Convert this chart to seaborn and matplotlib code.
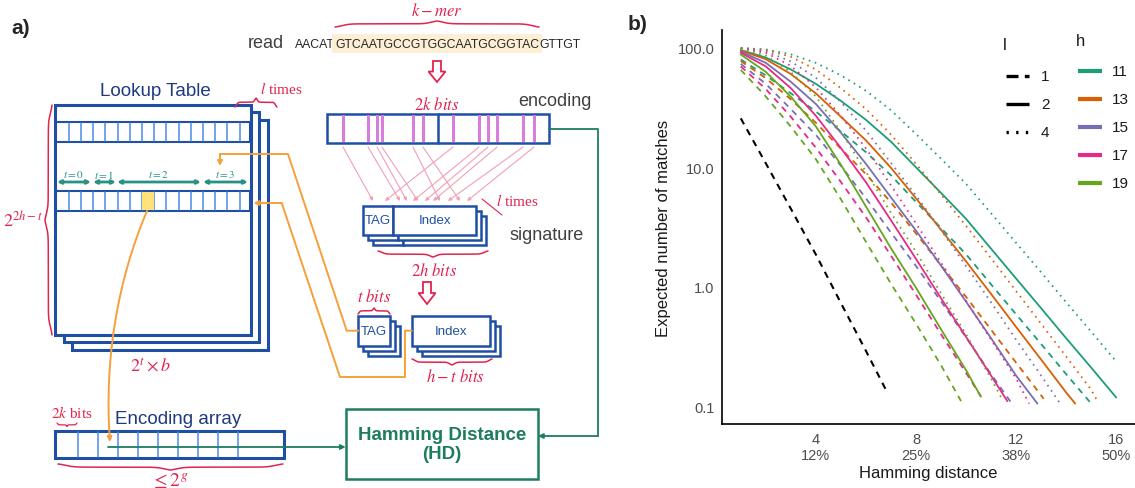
import numpy as np
import pandas as pd
import matplotlib
matplotlib.use("Agg")
import matplotlib.pyplot as plt
import seaborn as sns
from matplotlib.patches import Rectangle, Polygon, FancyArrowPatch
from matplotlib.path import Path
from matplotlib.ticker import NullLocator

sns.set_style("white")
plt.rcParams["font.family"] = ["Liberation Sans", "DejaVu Sans"]
plt.rcParams["mathtext.fontset"] = "stix"

W, H = 1135, 489

# ---------------- panel b data ----------------
h_levels = ["11", "13", "15", "17", "19"]
h_colors = ["#1B9E77", "#D95F02", "#7570B3", "#E7298A", "#66A61E"]
l_levels = ["1", "2", "4"]

# expected number of matches at Hamming distance 1, 2, 3, ...
# l = 1 (dashed)
l1_h11 = [80, 58.8, 41.7, 29.3, 20.0, 13.4, 8.57, 5.13, 3.10, 1.87, 1.045, 0.587, 0.331, 0.185, 0.105]
l1_h13 = [77.6, 55.8, 37.1, 23.6, 14.3, 8.79, 5.08, 2.79, 1.51, 0.822, 0.436, 0.231, 0.123]
l1_h15 = [73.5, 50.0, 30.7, 18.7, 10.3, 5.5, 2.84, 1.49, 0.754, 0.376, 0.185]
l1_h17 = [70.0, 45.2, 26.5, 14.6, 7.53, 3.82, 1.82, 0.858, 0.40, 0.19]
l1_h19 = [65.4, 39.2, 21.9, 11.7, 5.40, 2.38, 1.06, 0.49, 0.22]
# l = 2 (solid)
l2_h11 = [96, 83, 66, 50, 36, 25, 16.4, 10.0, 6.1, 3.7, 2.08, 1.17, 0.66, 0.37, 0.21]
l2_h13 = [95, 80.5, 60.4, 41.6, 26.5, 16.8, 9.9, 5.5, 3.0, 1.63, 0.87, 0.46, 0.245, 0.13]
l2_h15 = [93, 75, 52, 33.9, 19.5, 10.7, 5.6, 2.95, 1.5, 0.75, 0.37, 0.18]
l2_h17 = [91, 70, 46, 27, 14.5, 7.5, 3.6, 1.71, 0.8, 0.38, 0.18]
l2_h19 = [88, 63, 39, 22, 10.5, 4.7, 2.1, 0.98, 0.44, 0.2]
# l = 4 (dotted)
l4_h11 = [99.8, 97.1, 88.4, 75.0, 59.0, 43.8, 30.1, 19.0, 11.8, 7.26, 4.12, 2.33, 1.32, 0.74, 0.42]
l4_h13 = [99.7, 96.2, 84.3, 65.9, 46.0, 30.8, 18.8, 10.7, 5.91, 3.23, 1.73, 0.918, 0.489, 0.26, 0.137]
l4_h15 = [99.5, 93.8, 77.0, 56.3, 35.2, 20.3, 10.9, 5.81, 2.98, 1.49, 0.739, 0.36, 0.18]
l4_h17 = [99.2, 91.0, 70.8, 46.7, 26.9, 14.4, 7.07, 3.39, 1.59, 0.759, 0.36, 0.17]
l4_h19 = [98.6, 86.3, 62.8, 39.2, 19.9, 9.18, 4.16, 1.96, 0.88, 0.40, 0.17]
# last point of each curve before it drops out of the panel (distance, value)
l1_end_d = [15.05, 13.1, 11.9, 10.6, 9.8]
l1_end_y = [0.10, 0.115, 0.10, 0.12, 0.11]
l2_end_d = [16.0, 14.36, 12.85, 11.65, 10.59]
l2_end_y = [0.118, 0.105, 0.105, 0.11, 0.12]
l4_end_d = [16.0, 15.25, 13.76, 12.52, 11.48]
l4_end_y = [0.236, 0.11, 0.105, 0.105, 0.11]
# black dashed reference line
ref_d = [1, 2, 3, 4, 5, 6, 6.87]
ref_y = [25.7, 10.8, 4.5, 1.86, 0.73, 0.29, 0.128]

x_ticks = [4, 8, 12, 16]
x_ticklabels = ["4\n12%", "8\n25%", "12\n38%", "16\n50%"]
y_ticks = [0.1, 1, 10, 100]
y_ticklabels = ["0.1", "1.0", "10.0", "100.0"]

curves = {"1": [l1_h11, l1_h13, l1_h15, l1_h17, l1_h19],
          "2": [l2_h11, l2_h13, l2_h15, l2_h17, l2_h19],
          "4": [l4_h11, l4_h13, l4_h15, l4_h17, l4_h19]}
ends = {"1": (l1_end_d, l1_end_y), "2": (l2_end_d, l2_end_y), "4": (l4_end_d, l4_end_y)}

rows = []
for l in l_levels:
    for i, h in enumerate(h_levels):
        vals = curves[l][i]
        xs = list(range(1, len(vals) + 1)) + [ends[l][0][i]]
        ys = list(vals) + [ends[l][1][i]]
        rows += [{"dist": x, "matches": y, "h": h, "l": l} for x, y in zip(xs, ys)]
df = pd.DataFrame(rows)

fig = plt.figure(figsize=(W / 100, H / 100), dpi=100)

# ---------------- panel b ----------------
ax = fig.add_axes([722 / W, 1 - 425 / H, (W - 722) / W, (425 - 31) / H])
sns.lineplot(data=df, x="dist", y="matches", hue="h", style="l",
             palette=dict(zip(h_levels, h_colors)),
             dashes={"1": (3.4, 3.0), "2": "", "4": (0.9, 2.6)},
             linewidth=1.3, estimator=None, legend=False, ax=ax)
sns.lineplot(x=ref_d, y=ref_y, color="black", linewidth=1.5, linestyle=(0, (3.2, 2.8)),
             estimator=None, ax=ax)
ax.set_yscale("log")
ax.set_xlim(0.25, 16.75)
ax.set_ylim(10 ** -1.15, 10 ** 2.15)
ax.set_xticks(x_ticks)
ax.set_xticklabels(x_ticklabels, linespacing=1.2)
ax.set_yticks(y_ticks)
ax.set_yticklabels(y_ticklabels)
ax.yaxis.set_minor_locator(NullLocator())
ax.tick_params(length=3.5, width=0.9, color="#333333", labelcolor="#4D4D4D", labelsize=10.5, pad=2)
sns.despine(ax=ax)
for s in ("left", "bottom"):
    ax.spines[s].set_linewidth(1.2)
    ax.spines[s].set_color("black")
ax.set_xlabel("Hamming distance", fontsize=12, color="#1A1A1A", labelpad=2)
ax.set_ylabel("Expected number of matches", fontsize=12, color="#1A1A1A", labelpad=5)

# ---------------- overlay in pixel coordinates (panel a + legends) ----------------
ov = fig.add_axes([0, 0, 1, 1])
ov.set_xlim(0, W)
ov.set_ylim(H, 0)
ov.axis("off")

# legends of panel b
ov.text(1003, 45, "l", fontsize=12, va="center", ha="left", color="#1A1A1A")
l_styles = [(0, (3.6, 1.9)), "-", (0, (0.7, 2.2))]
for j, (lab, ls) in enumerate(zip(l_levels, l_styles)):
    yy = 76.7 + 28 * j
    ov.plot([1006, 1029], [yy, yy], color="black", lw=2.4, linestyle=ls,
            solid_capstyle="butt", dash_capstyle="butt")
    ov.text(1041, yy, lab, fontsize=11, va="center", ha="left", color="#1A1A1A")
ov.text(1076, 42, "h", fontsize=12, va="center", ha="left", color="#1A1A1A")
for j, (lab, c) in enumerate(zip(h_levels, h_colors)):
    yy = 71.7 + 28.1 * j
    ov.plot([1078, 1102], [yy, yy], color=c, lw=3, solid_capstyle="butt")
    ov.text(1112, yy, lab, fontsize=11, va="center", ha="left", color="#1A1A1A")

ov.text(638, 25, "b)", fontsize=15, fontweight="bold", va="center", ha="center")
ov.text(21, 29, "a)", fontsize=15, fontweight="bold", va="center", ha="center")

# ---------------- panel a diagram ----------------
BLUE = "#1F4FA5"
LBLUE = "#4A8BE6"
NAVY = "#1F3A80"
RED = "#E0244F"
ORANGE = "#F5A03A"
GREEN = "#1E7D5F"
TEAL = "#2A9187"
GREY = "#404040"
PINK = "#F2A0B5"


def rect(x0, y0, x1, y1, ec=BLUE, lw=1.8, fc="white", z=2):
    ov.add_patch(Rectangle((x0, y0), x1 - x0, y1 - y0, ec=ec, fc=fc, lw=lw, zorder=z))


def brace(a0, a1, b, h, vertical=False, color=RED, lw=1.1):
    t = np.linspace(0, 1, 300)
    u = np.where(t < 0.5, t, 1 - t) * 2
    s = 1 / (1 + np.exp(-28 * (u - 0.07))) + 1 / (1 + np.exp(-28 * (u - 0.95)))
    s = (s - s.min()) / (s.max() - s.min())
    a = a0 + (a1 - a0) * t
    bb = b + h * s
    if vertical:
        ov.plot(bb, a, color=color, lw=lw, zorder=3)
    else:
        ov.plot(a, bb, color=color, lw=lw, zorder=3)


def hollow_down(xc, y0, y1):
    yh = y0 + (y1 - y0) * 0.5
    pts = [(xc - 4, y0), (xc + 4, y0), (xc + 4, yh), (xc + 8.5, yh), (xc, y1),
           (xc - 8.5, yh), (xc - 4, yh)]
    ov.add_patch(Polygon(pts, closed=True, fc="white", ec=RED, lw=1.3, zorder=3))


def poly_arrow(pts, color, lw=1.4, ms=7):
    xs, ys = zip(*pts)
    ov.plot(xs[:-1], ys[:-1], color=color, lw=lw, zorder=4)
    ov.annotate("", xy=pts[-1], xytext=pts[-2],
                arrowprops=dict(arrowstyle="-|>", color=color, lw=lw, mutation_scale=ms,
                                shrinkA=0, shrinkB=0), zorder=4)


def red(x, y, s, size=11):
    ov.text(x, y, s, color=RED, fontsize=size, ha="center", va="center",
            family=["Liberation Serif", "DejaVu Serif"])


# read + k-mer
ov.text(284, 44, "read", fontsize=13, color=GREY, ha="right", va="center")
t_left = ov.text(335, 44.5, "AACAT", fontsize=8.8, ha="right", va="center")
t_mid = ov.text(335, 44.5, "GTCAATGCCGTGGCAATGCGGTAC", fontsize=8.8, ha="left", va="center",
                bbox=dict(boxstyle="square,pad=0.25", fc="#FCEFD4", ec="none"))
fig.canvas.draw()
bbm = t_mid.get_window_extent()
x_end = ov.transData.inverted().transform((bbm.x1, bbm.y0))[0]
ov.text(x_end, 44.5, "GTTGT", fontsize=8.8, ha="left", va="center")
brace(335, x_end, 28, -6)
red((335 + x_end) / 2, 11, r"$k-mer$", 12)
hollow_down(437, 62, 83)

# encoding
red(437, 105, r"$2k\ bits$", 12)
ov.text(555, 102, "encoding", fontsize=13, color=GREY, ha="center", va="center")
rect(326.7, 115, 549.3, 144)
ov.plot([437.7, 437.7], [115, 144], color=BLUE, lw=1.8, zorder=3)
bar_x = [343, 368, 377, 382, 413, 423, 453, 479, 488, 497, 523, 534]
for bx in bar_x:
    ov.add_patch(Rectangle((bx - 1.5, 116), 3, 27, fc="#D97BDF", ec="none", zorder=3))
pink_to = [373, 400, 407, 418, 440, 460, 385, 413, 425, 433, 448, 467]
for bx, ex in zip(bar_x, pink_to):
    ov.annotate("", xy=(ex, 202), xytext=(bx, 148),
                arrowprops=dict(arrowstyle="-|>", color=PINK, lw=0.8, mutation_scale=5,
                                shrinkA=0, shrinkB=0))

# signature
for off in (10, 5, 0):
    rect(363.3 + off, 206.7 + off, 393.3 + off, 236 + off)
    rect(393.3 + off, 206.7 + off, 476 + off, 236 + off)
ov.text(378.3, 221.5, "TAG", fontsize=9.5, color=BLUE, ha="center", va="center", zorder=5)
ov.text(434.7, 221.5, "Index", fontsize=9.5, color=BLUE, ha="center", va="center", zorder=5)
ov.plot([482, 502], [200, 216], color=RED, lw=0.8)
ov.text(496, 201, r"$l$ times", color=RED, fontsize=11, ha="left", va="center",
        family=["Liberation Serif", "DejaVu Serif"])
ov.text(547, 235, "signature", fontsize=13, color=GREY, ha="center", va="center")
brace(378, 488, 252, 6)
red(434, 272, r"$2h\ bits$", 12)
hollow_down(427, 283, 305)

# TAG / Index split
for off in (10, 5, 0):
    rect(358.3 + off, 317.3 + off, 390 + off, 346.7 + off)
    rect(411.7 + off, 317.3 + off, 490 + off, 346.7 + off)
ov.text(374.2, 332, "TAG", fontsize=9.5, color=BLUE, ha="center", va="center", zorder=5)
ov.text(450.8, 332, "Index", fontsize=9.5, color=BLUE, ha="center", va="center", zorder=5)
brace(358, 390, 315, -6)
red(374, 298, r"$t\ bits$", 12)
brace(412, 492, 360, 6)
red(455, 378, r"$h-t\ bits$", 12)

# lookup table
ov.text(155, 92, "Lookup Table", fontsize=13.5, color=NAVY, ha="center", va="center")
for dx, dy in ((17, 14.5), (8.5, 7), (0, 0)):
    rect(55 + dx, 106 + dy, 250.7 + dx, 336 + dy, lw=2.2)
cell_w = 12.2
for ry in (122.7, 191.7):
    rect(55.5, ry, 250.2, ry + 20.3, lw=1.5, z=3)
    for i in range(1, 16):
        cx = 56.5 + cell_w * i
        ov.plot([cx, cx], [ry + 1, ry + 19.3], color=LBLUE, lw=1.1, zorder=4)
ov.add_patch(Rectangle((56.5 + cell_w * 7, 192.5), cell_w, 18.7, fc="#FFE27A", ec="none", zorder=4))
for k, (a0, a1) in enumerate([(57, 91), (93, 116), (117, 201), (203, 248)]):
    ov.annotate("", xy=(a1, 183), xytext=(a0, 183),
                arrowprops=dict(arrowstyle="<|-|>", color=TEAL, lw=2, mutation_scale=5,
                                shrinkA=0, shrinkB=0), zorder=4)
    ov.text((a0 + a1) / 2, 175, r"$t = %d$" % k, color=TEAL, fontsize=8, ha="center", va="center")
brace(106, 336, 52, -7, vertical=True)
red(23, 221, r"$2^{2h-t}$", 13)
brace(235, 277, 108, -9)
ov.text(281, 89, r"$l$ times", color=RED, fontsize=11, ha="center", va="center",
        family=["Liberation Serif", "DejaVu Serif"])
red(150, 367, r"$2^{t}\times b$", 13)

# orange links
poly_arrow([(358.3, 331.7), (346.7, 331.7), (288, 155), (220, 155), (220, 167)], ORANGE)
poly_arrow([(411.7, 331.7), (405, 331.7), (405, 378), (340, 378), (281.7, 204), (253.5, 204)], ORANGE)
curve = Path([(147, 212), (118, 280), (104, 360), (110, 443)],
             [Path.MOVETO, Path.CURVE4, Path.CURVE4, Path.CURVE4])
ov.add_patch(FancyArrowPatch(path=curve, arrowstyle="-|>", color=ORANGE, lw=1.4,
                             mutation_scale=7, zorder=5))

# encoding array
ov.text(178, 419, "Encoding array", fontsize=13.5, color=NAVY, ha="center", va="center")
rect(55, 431.7, 284, 459, lw=2.2)
for cx in (78, 98, 118, 138, 158, 178, 198, 218, 238):
    ov.plot([cx, cx], [433, 457.7], color=LBLUE, lw=1.1, zorder=3)
ov.text(72, 413, r"$2k$ bits", color=RED, fontsize=11, ha="center", va="center",
        family=["Liberation Serif", "DejaVu Serif"])
brace(57, 77, 424, 3.5, lw=0.9)
brace(58, 283, 465, 6)
red(170, 481, r"$\leq 2^{g}$", 14)

# Hamming distance box and green links
rect(345.7, 410, 538, 480, ec=GREEN, lw=1.8)
ov.text(442, 445, "Hamming Distance\n(HD)", fontsize=13.5, fontweight="bold", color=GREEN,
        ha="center", va="center", linespacing=1.15, zorder=5)
poly_arrow([(108, 448), (345.7, 448)], GREEN, lw=1.3)
poly_arrow([(549.3, 130), (598, 130), (598, 437), (538, 437)], GREEN, lw=1.3)

ov.set_xlim(0, W)
ov.set_ylim(H, 0)
fig.savefig("out.png", dpi=100)
